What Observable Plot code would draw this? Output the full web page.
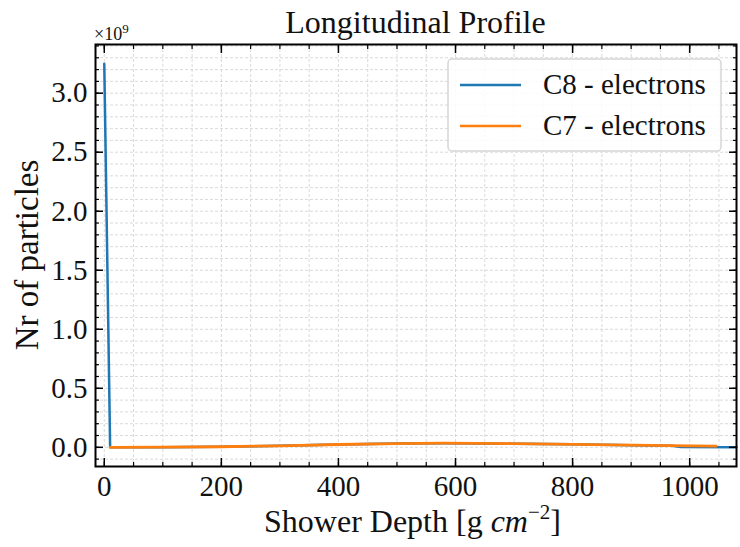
<!DOCTYPE html>
<html>
<head>
<meta charset="utf-8">
<script src="https://cdn.jsdelivr.net/npm/d3@7"></script>
<script src="https://cdn.jsdelivr.net/npm/@observablehq/plot@0.6"></script>
<style>
  html, body { margin: 0; padding: 0; background: #fff; }
  #chart svg { display: block; background: white; }
  #chart svg text { font-family: Liberation Serif !important; }
</style>
</head>
<body>
<div id="chart"></div>
<script>
// Data (particle counts in units of 1e9)
const seriesNames = ["C8 - electrons", "C7 - electrons"];
const seriesColors = ["#1f77b4", "#ff7f0e"];
const c8Depth = [0, 10, 100, 200, 300, 400, 500, 580, 700, 800, 900, 970, 985, 1080];
const c8Count = [3.25, 0.0, 0.001, 0.005, 0.013, 0.024, 0.032, 0.035, 0.031, 0.025, 0.018, 0.013, 0.002, 0.001];
const c7Depth = [10, 100, 200, 300, 400, 500, 580, 700, 800, 900, 1000, 1045];
const c7Count = [0.0, 0.001, 0.005, 0.013, 0.024, 0.032, 0.035, 0.031, 0.025, 0.018, 0.013, 0.01];
const xMajorTicks = [0, 200, 400, 600, 800, 1000];
const yMajorTicks = [0, 0.5, 1.0, 1.5, 2.0, 2.5, 3.0];

const rows = [];
c8Depth.forEach((d, i) => rows.push({series: seriesNames[0], depth: d, count: c8Count[i]}));
c7Depth.forEach((d, i) => rows.push({series: seriesNames[1], depth: d, count: c7Count[i]}));

const W = 740, H = 547;
const mL = 95, mR = 4, mT = 44, mB = 81;
const xMinor = d3.range(0, 1080, 50);
const yMinor = d3.range(-1, 35).map(i => +(i / 10).toFixed(1));
const gridStyle = {stroke: "#d0d0d0", strokeOpacity: 1, strokeWidth: 0.8, strokeDasharray: "3,2"};
const FONT = "Liberation Serif";

const chart = Plot.plot({
  width: W, height: H,
  marginLeft: mL, marginRight: mR, marginTop: mT, marginBottom: mB,
  x: {domain: [-15, 1080]},
  y: {domain: [-0.1625, 3.4125]},
  marks: [
    Plot.gridX({ticks: xMinor, ...gridStyle}),
    Plot.gridY({ticks: yMinor, ...gridStyle}),
    Plot.line(rows.filter(r => r.series === seriesNames[0]), {x: "depth", y: "count", stroke: seriesColors[0], strokeWidth: 2.5}),
    Plot.line(rows.filter(r => r.series === seriesNames[1]), {x: "depth", y: "count", stroke: seriesColors[1], strokeWidth: 2.8}),
    // inward ticks, all four sides
    Plot.axisX({anchor: "bottom", ticks: xMinor, tickSize: -4, text: null, strokeWidth: 1.2, label: null}),
    Plot.axisX({anchor: "top", ticks: xMinor, tickSize: -4, text: null, strokeWidth: 1.2, label: null}),
    Plot.axisX({anchor: "bottom", ticks: xMajorTicks, tickSize: -8, text: null, strokeWidth: 1.5, label: null}),
    Plot.axisX({anchor: "top", ticks: xMajorTicks, tickSize: -8, text: null, strokeWidth: 1.5, label: null}),
    Plot.axisY({anchor: "left", ticks: yMinor.filter(v => v >= -0.15 && v <= 3.4), tickSize: -4, text: null, strokeWidth: 1.2, label: null}),
    Plot.axisY({anchor: "right", ticks: yMinor.filter(v => v >= -0.15 && v <= 3.4), tickSize: -4, text: null, strokeWidth: 1.2, label: null}),
    Plot.axisY({anchor: "left", ticks: yMajorTicks, tickSize: -8, text: null, strokeWidth: 1.5, label: null}),
    Plot.axisY({anchor: "right", ticks: yMajorTicks, tickSize: -8, text: null, strokeWidth: 1.5, label: null}),
    // tick labels
    Plot.axisX({anchor: "bottom", ticks: xMajorTicks, tickSize: 0, tickPadding: 9, fontSize: 29, tickFormat: d => String(d), label: null, fill: "#111"}),
    Plot.axisY({anchor: "left", ticks: yMajorTicks, tickSize: 0, tickPadding: 8, fontSize: 29, tickFormat: d => d.toFixed(1), label: null, fill: "#111"}),
    Plot.frame({stroke: "black", strokeWidth: 2})
  ]
});

const svg = d3.select(chart).attr("font-family", FONT);
const plotCx = mL + (W - mL - mR) / 2;
const addText = (sel) => sel.append("text").attr("font-family", FONT).attr("fill", "#111");

// title
addText(svg).attr("x", plotCx).attr("y", 33).attr("text-anchor", "middle")
  .attr("font-size", 32).text("Longitudinal Profile");

// exponent
const ex = addText(svg).attr("x", 94).attr("y", 40).attr("font-size", 18).attr("text-anchor", "start");
ex.append("tspan").text("×10");
ex.append("tspan").attr("dy", -7).attr("font-size", 13).text("9");

// x label
const xl = addText(svg).attr("x", plotCx - 3).attr("y", 532).attr("text-anchor", "middle")
  .attr("font-size", 32);
xl.append("tspan").text("Shower Depth [g ");
xl.append("tspan").attr("font-style", "italic").text("cm");
xl.append("tspan").attr("dy", -13).attr("font-size", 21).text("−2");
xl.append("tspan").attr("dy", 13).text("]");

// y label
addText(svg).attr("transform", `translate(38,${mT + (H - mT - mB) / 2}) rotate(-90)`)
  .attr("text-anchor", "middle").attr("font-size", 33).text("Nr of particles");

// legend
const lg = svg.append("g");
lg.append("rect").attr("x", 448).attr("y", 59).attr("width", 273).attr("height", 92).attr("rx", 4)
  .attr("fill", "white").attr("fill-opacity", 0.85).attr("stroke", "#d6d6d6").attr("stroke-width", 1.5);
seriesNames.forEach((name, i) => {
  const cy = 85 + i * 41;
  lg.append("line").attr("x1", 460).attr("x2", 521).attr("y1", cy).attr("y2", cy)
    .attr("stroke", seriesColors[i]).attr("stroke-width", 2.5);
  addText(lg).attr("x", 543).attr("y", cy + 9).attr("font-size", 29).attr("text-anchor", "start").text(name);
});

document.getElementById("chart").appendChild(chart);
</script>
</body>
</html>
